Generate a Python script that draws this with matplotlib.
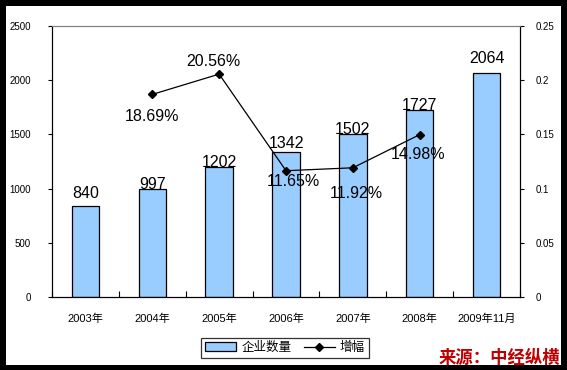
import matplotlib
matplotlib.use("Agg")
import matplotlib.pyplot as plt
from matplotlib.patches import Rectangle
from matplotlib.lines import Line2D
import numpy as np

plt.rcParams['font.family'] = ['Liberation Sans', 'Noto Sans CJK SC', 'DejaVu Sans']

categories = ["2003年", "2004年", "2005年", "2006年", "2007年", "2008年", "2009年11月"]
counts = [840, 997, 1202, 1342, 1502, 1727, 2064]
growth_idx = [1, 2, 3, 4, 5]
growth = [0.1869, 0.2056, 0.1165, 0.1192, 0.1498]
growth_labels = ["18.69%", "20.56%", "11.65%", "11.92%", "14.98%"]

# label placement (pixels)
count_label_offsets = [5, -3, -3, 1, -3, -3, 7]
growth_offsets = [(0, -22), (-6, 13), (7, -11), (3, -26), (-2, -20)]

fig = plt.figure(figsize=(5.67, 3.70), dpi=100)
fig.patch.set_facecolor("black")
fig.add_artist(Rectangle((6/567, 5/370), 555/567, 359/370, transform=fig.transFigure,
                         facecolor="white", edgecolor="none", zorder=0))

ax = fig.add_axes([52/567, 1-297/370, 468/567, 271/370])
ax.set_facecolor("white")
x = np.arange(len(categories))
ax.bar(x, counts, width=0.41, color="#99CCFF", edgecolor="black", linewidth=0.9, zorder=2)
for xi, v, off in zip(x, counts, count_label_offsets):
    ax.annotate(str(v), (xi, v), xytext=(0, off), textcoords="offset pixels",
                ha="center", va="bottom", fontsize=11.5, zorder=4)
ax.set_xlim(-0.5, len(categories) - 0.5)
ax.set_ylim(0, 2500)
ax.set_yticks(np.arange(0, 2501, 500))
ax.set_xticks(np.arange(-0.5, len(categories), 1), minor=False)
ax.set_xticklabels([])
ax.set_xticks(x, minor=True)
ax.set_xticklabels(categories, minor=True, fontsize=8)
ax.tick_params(axis="x", which="major", direction="in", length=4, width=0.8)
ax.tick_params(axis="x", which="minor", length=0, pad=12)
ax.tick_params(axis="y", direction="out", length=3, width=0.8, labelsize=7, pad=12)
for s in ["left", "bottom", "right"]:
    ax.spines[s].set_color("black")
ax.spines["top"].set_color("#808080")

ax2 = ax.twinx()
ax2.plot(growth_idx, growth, color="black", linewidth=0.9, marker="D", markersize=4, zorder=3)
ax2.set_ylim(0, 0.25)
ax2.set_yticks([0, 0.05, 0.1, 0.15, 0.2, 0.25])
ax2.set_yticklabels(["0", "0.05", "0.1", "0.15", "0.2", "0.25"])
ax2.tick_params(axis="y", direction="out", length=3, width=0.8, labelsize=7, pad=8)
ax2.spines["top"].set_color("#808080")
for xi, v, lab, off in zip(growth_idx, growth, growth_labels, growth_offsets):
    ax2.annotate(lab, (xi, v), xytext=off, textcoords="offset pixels",
                 ha="center", va="center", fontsize=11.5)

handles = [Rectangle((0, 0), 1, 1, facecolor="#99CCFF", edgecolor="black", linewidth=0.9),
           Line2D([0], [0], color="black", marker="D", markersize=4, linewidth=0.9)]
leg = fig.legend(handles, ["企业数量", "增幅"], loc="center", bbox_to_anchor=(285/567, 1-348/370),
                 ncol=2, fontsize=9, frameon=True, fancybox=False, edgecolor="black",
                 handlelength=2.5, borderpad=0.3, columnspacing=1.0, handletextpad=0.4)
leg.get_frame().set_linewidth(0.9)

fig.text(560/567, 1-357/370, "来源：中经纵横", ha="right", va="center", color="#C00000",
         fontsize=12.5, fontweight="bold", style="italic")

fig.savefig("out.png", dpi=100, facecolor=fig.get_facecolor())
